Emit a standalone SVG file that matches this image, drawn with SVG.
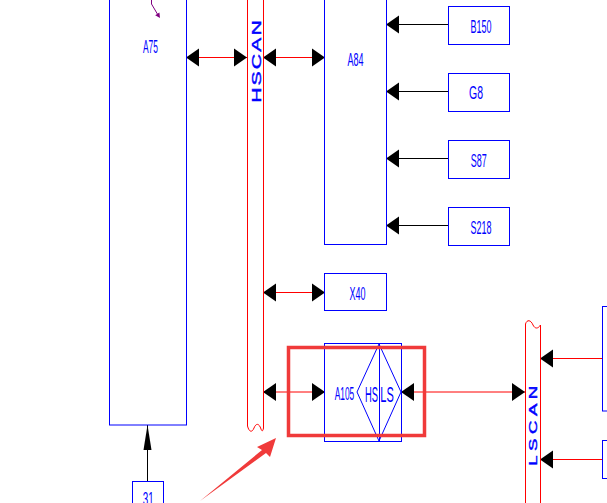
<svg xmlns="http://www.w3.org/2000/svg" width="607" height="503" viewBox="0 0 607 503">
<style>
.box{fill:none;stroke:#0000ff;stroke-width:1}
.bus{fill:none;stroke:#ff0000;stroke-width:1}
.lbl{font-family:"Liberation Sans",Arial,sans-serif;font-size:18px;fill:#0000ff;text-anchor:middle}
.big{font-size:22px}
.bustxt{font-family:"Liberation Sans",Arial,sans-serif;fill:#0000ff;stroke:#0000ff;stroke-width:0.4;text-anchor:middle}
.red{stroke:#ff0000;stroke-width:1;fill:none}
.blk{stroke:#000000;stroke-width:1;fill:none}
.bi{marker-start:url(#ah);marker-end:url(#ah)}
.one{marker-end:url(#ah)}
</style>
<defs>
<marker id="ah" markerUnits="userSpaceOnUse" markerWidth="14" markerHeight="20" viewBox="0 -10 14 20" refX="13" refY="0" orient="auto-start-reverse">
<path d="M0,-9 L13,0 L0,9 Z" fill="#000"/>
</marker>
<marker id="nar" markerUnits="userSpaceOnUse" markerWidth="26" markerHeight="10" viewBox="0 -5 26 10" refX="25" refY="0" orient="auto">
<path d="M0,-4 L25,0 L0,4 Z" fill="#000"/>
</marker>
</defs>
<rect width="607" height="503" fill="#ffffff"/>

<g id="connectors">
<line class="red bi" x1="186" y1="57.5" x2="247" y2="57.5"/>
<line class="red bi" x1="263" y1="57.5" x2="325" y2="57.5"/>
<line class="red bi" x1="263" y1="292.5" x2="325" y2="292.5"/>
<line class="red bi" x1="263" y1="392" x2="325" y2="392"/>
<line class="red bi" x1="401" y1="392" x2="525" y2="392"/>
<line class="blk one" x1="448" y1="24.5" x2="386" y2="24.5"/>
<line class="blk one" x1="448" y1="91.5" x2="386" y2="91.5"/>
<line class="blk one" x1="448" y1="158.5" x2="386" y2="158.5"/>
<line class="blk one" x1="448" y1="225.5" x2="386" y2="225.5"/>
<line class="red one" x1="602" y1="358.5" x2="540" y2="358.5"/>
<line class="red one" x1="602" y1="459.5" x2="540" y2="459.5"/>
<line class="blk" x1="147.5" y1="481" x2="147.5" y2="425" marker-end="url(#nar)"/>
</g>

<g id="A75">
<rect class="box" x="109.5" y="-5" width="77" height="430"/>
<polyline points="151.5,0 151.5,4 158,15" fill="none" stroke="#800080" stroke-width="1"/>
<polygon points="160,18 155.2,15.2 159.4,12.4" fill="#800080"/>
<text class="lbl" x="150.5" y="53" textLength="15" lengthAdjust="spacingAndGlyphs">A75</text>
</g>

<g id="HSCAN">
<path class="bus" d="M247.5,-5 L247.5,426 C249,432 252,433 254,428 C256,423 259,423 261,429 C262,432 263,431 263.5,428 L263.5,-5"/>
<text class="bustxt" font-size="12.5" letter-spacing="1.2" transform="translate(260.6,60.5) rotate(-90) scale(1.7,1)">HSCAN</text>
</g>

<g id="A84">
<rect class="box" x="324.5" y="-5" width="62" height="249.5"/>
<text class="lbl" x="355.5" y="66" textLength="16" lengthAdjust="spacingAndGlyphs">A84</text>
</g>

<g id="B150">
<rect class="box" x="448.5" y="6.5" width="61" height="38"/>
<text class="lbl" x="481" y="33" textLength="21" lengthAdjust="spacingAndGlyphs">B150</text>
</g>

<g id="G8">
<rect class="box" x="448.5" y="73.5" width="61" height="38"/>
<text class="lbl" x="476" y="98.5" textLength="14" lengthAdjust="spacingAndGlyphs">G8</text>
</g>

<g id="S87">
<rect class="box" x="448.5" y="140.5" width="61" height="38"/>
<text class="lbl" x="478.7" y="167" textLength="16" lengthAdjust="spacingAndGlyphs">S87</text>
</g>

<g id="S218">
<rect class="box" x="448.5" y="207.5" width="61" height="38"/>
<text class="lbl" x="481" y="234" textLength="21" lengthAdjust="spacingAndGlyphs">S218</text>
</g>

<g id="X40">
<rect class="box" x="324.5" y="273.5" width="62" height="37"/>
<text class="lbl" x="357.5" y="300" textLength="16" lengthAdjust="spacingAndGlyphs">X40</text>
</g>

<g id="A105">
<rect class="box" x="324.5" y="343.5" width="77" height="98"/>
<path class="box" d="M379,344 L401,392 L379,441 L357,392 Z"/>
<line class="box" x1="379.5" y1="343.5" x2="379.5" y2="441.5"/>
<text class="lbl" x="344.5" y="400" textLength="19.5" lengthAdjust="spacingAndGlyphs">A105</text>
<text class="lbl big" x="371.5" y="401.5" textLength="13" lengthAdjust="spacingAndGlyphs">HS</text>
<text class="lbl big" x="387" y="401.5" textLength="13.5" lengthAdjust="spacingAndGlyphs">LS</text>
</g>

<g id="LSCAN">
<path class="bus" d="M525.5,510 L525.5,324 C527,319 531,320 533,325 C535,329 538,329 540.5,325 L540.5,510"/>
<text class="bustxt" font-size="11" letter-spacing="2.6" transform="translate(537,423.5) rotate(-90) scale(1.7,1)">LSCAN</text>
</g>

<g id="R1">
<rect class="box" x="602.5" y="306.5" width="20" height="104.5"/>
</g>
<g id="R2">
<rect class="box" x="602.5" y="440.5" width="20" height="38"/>
</g>

<g id="N31">
<rect class="box" x="132.5" y="481.5" width="31" height="30"/>
<text class="lbl" x="148.3" y="504.7" textLength="11" lengthAdjust="spacingAndGlyphs">31</text>
</g>

<g id="highlight">
<rect x="288.5" y="347.5" width="136" height="88" fill="none" stroke="#f03a3a" stroke-width="3.5"/>
<polygon points="276,438 257,447 262,450 200,501 266,453 270,457" fill="#f03a3a"/>
</g>
</svg>
